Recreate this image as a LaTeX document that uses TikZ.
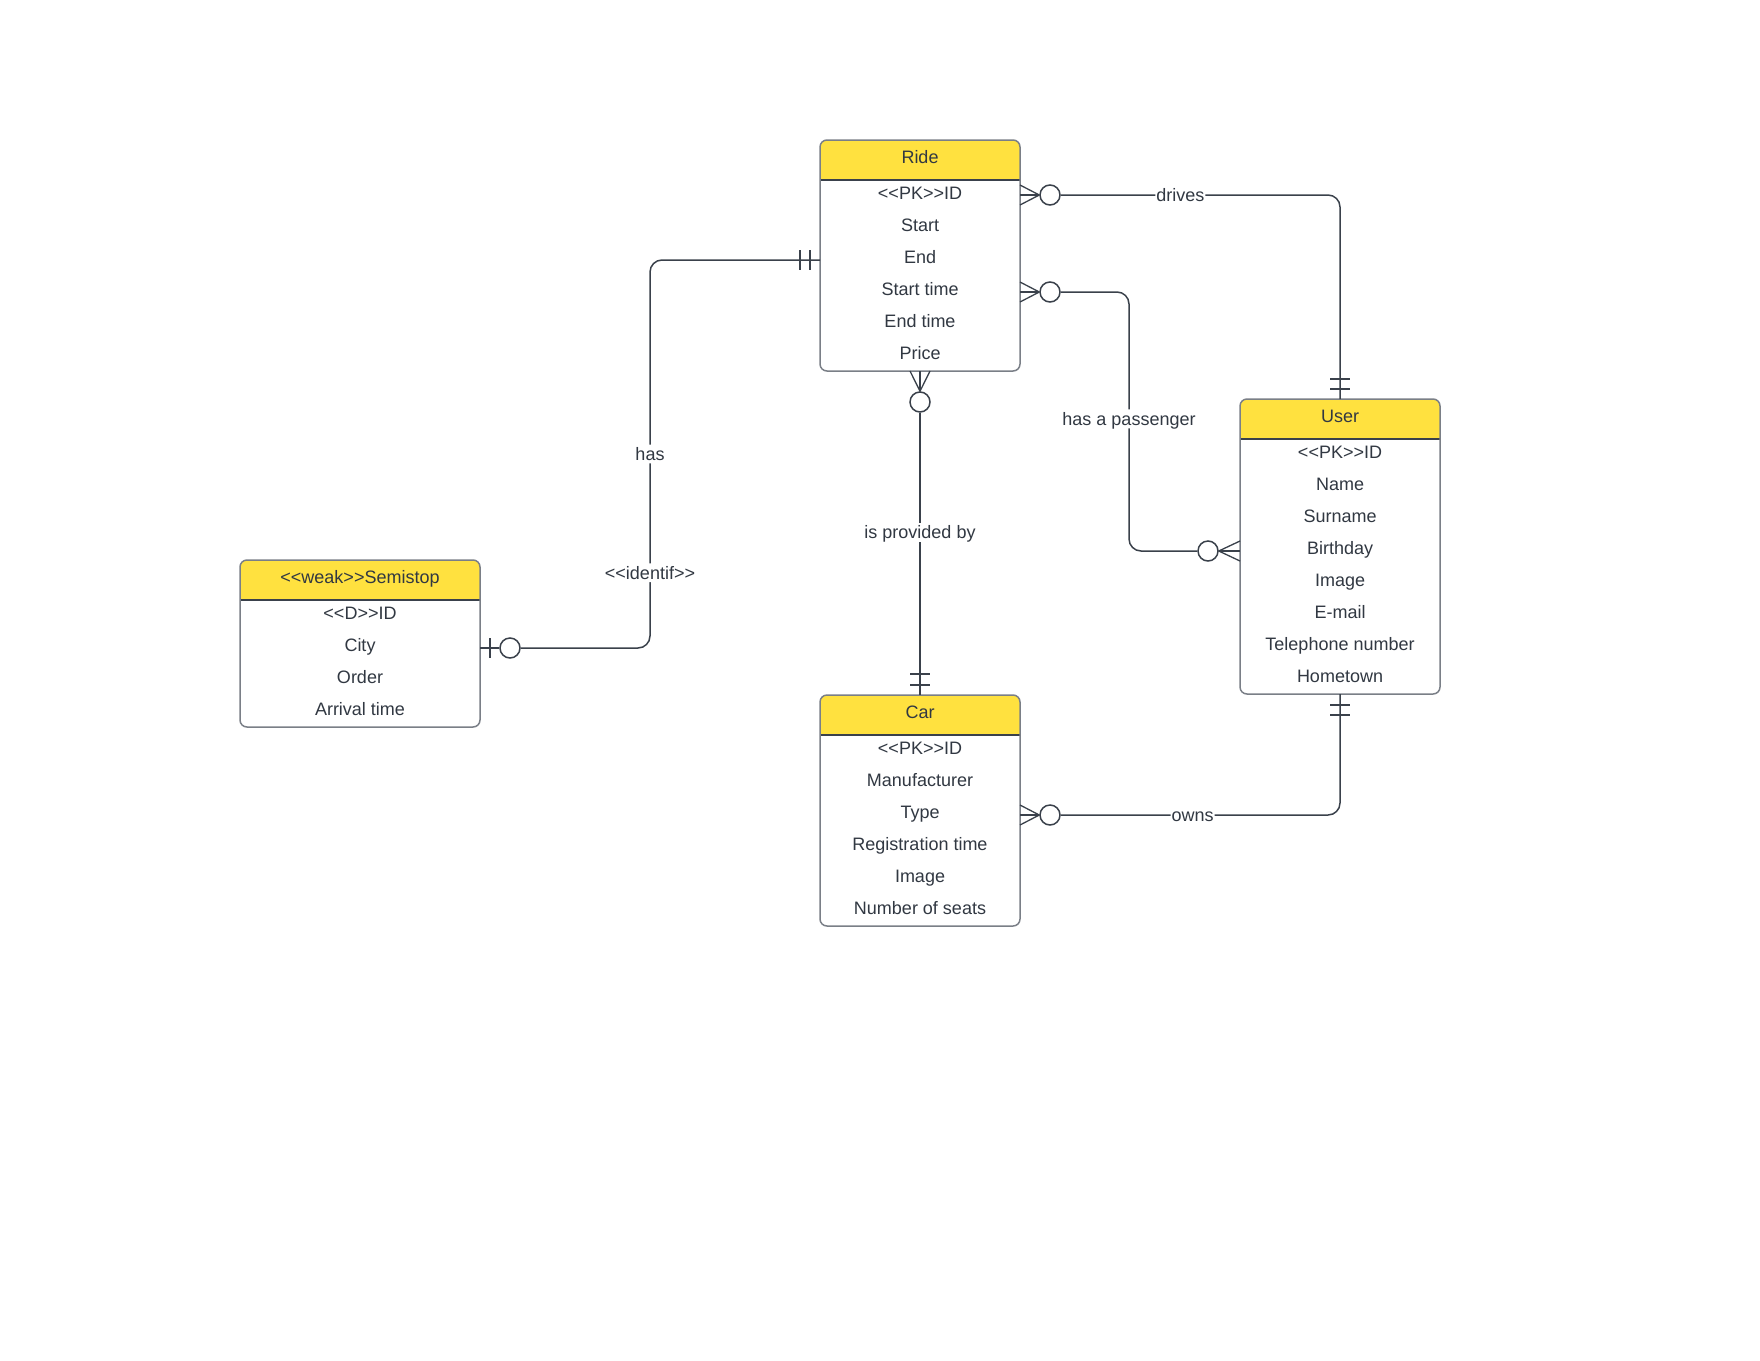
\documentclass[tikz,border=0pt]{standalone}
\usepackage{fontspec}
\setmainfont{Liberation Sans}
\definecolor{hdr}{HTML}{FFE13F}
\definecolor{boxgray}{HTML}{7A7F87}
\definecolor{ln}{HTML}{3A414B}
\definecolor{txtc}{HTML}{313842}
\tikzset{
  txt/.style={inner sep=0pt, text height=12.9pt, text depth=0pt, text=txtc,
    font=\fontsize{18}{22}\selectfont},
  lbl/.style={txt, fill=white, inner xsep=1pt, inner ysep=3pt},
  conn/.style={draw=ln, line width=1.5pt, rounded corners=12pt},
  foot/.style={draw=ln, line width=1.3pt},
  footmid/.style={draw=ln, line width=2.6pt},
  bar/.style={draw=ln, line width=2pt},
  ocirc/.style={circle, draw=ln, line width=1.5pt, fill=white, minimum size=20pt, inner sep=0pt},
  entbox/.style={draw=boxgray, rounded corners=7pt, line width=1.5pt, inner sep=0pt, outer sep=0pt, anchor=north west},
  sepline/.style={draw=ln, line width=1.8pt}
}
\newcommand\mkent[7]{%
  \pgfmathsetmacro\entb{#3+39+32*#5}%
  \pgfmathsetmacro\entr{#2+#4}%
  \pgfmathsetmacro\enth{#3+40}%
  \begin{scope}
    \clip[rounded corners=7pt] (#2,#3) rectangle (\entr,\entb);
    \fill[white] (#2,#3) rectangle (\entr,\entb);
    \fill[hdr] (#2,#3) rectangle (\entr,\enth);
  \end{scope}
  \draw[sepline] (#2,\enth) -- (\entr,\enth);
  \node[entbox, minimum width=#4pt, minimum height=32*#5+39] (#1) at (#2,#3) {};
  \node[txt] (#1-t) at (#2+#4/2, #3+17.5) {#6};
  \foreach \a [count=\i] in {#7} {
    \node[txt] (#1-\i) at (#2+#4/2, #3+53+32*\i-32) {\a};
  }
}
\begin{document}
\begin{tikzpicture}[x=1pt,y=-1pt]
\useasboundingbox (0,0) rectangle (1760,1360);
\fill[white] (0,0) rectangle (1760,1360);

% entities
\mkent{ride}{820}{140}{200}{6}{Ride}{<{}<PK>{}>ID,Start,End,Start time,End time,Price}
\mkent{semi}{240}{560}{240}{4}{<{}<weak>{}>Semistop}{<{}<D>{}>ID,City,Order,Arrival time}
\mkent{user}{1240}{399}{200}{8}{User}{<{}<PK>{}>ID,Name,Surname,Birthday,Image,E-mail,Telephone number,Hometown}
\mkent{car}{820}{695}{200}{6}{Car}{<{}<PK>{}>ID,Manufacturer,Type,Registration time,Image,Number of seats}

% ---------- drives ----------
\node[ocirc] (c1) at (1050,195) {};
\coordinate (r1) at (1020,195);
\draw[foot] (1020,185) -- (c1.west) -- (1020,205);
\draw[footmid] (r1) -- (c1.west);
\draw[conn] (c1.east) -| node[lbl, pos=0.214] {drives} (user.north);
\draw[bar] (1330,379) -- (1350,379);
\draw[bar] (1330,389) -- (1350,389);

% ---------- has a passenger ----------
\node[ocirc] (c2) at (1050,292) {};
\node[ocirc] (c2b) at (1208,551) {};
\coordinate (r2) at (1020,292);
\coordinate (u2) at (1240,551);
\draw[foot] (1020,282) -- (c2.west) -- (1020,302);
\draw[footmid] (r2) -- (c2.west);
\draw[foot] (1240,541) -- (c2b.east) -- (1240,561);
\draw[footmid] (u2) -- (c2b.east);
\draw[conn] (c2.east) -- (1129,292) -- node[lbl, pos=0.49] {has a passenger} (1129,551) -- (c2b.west);

% ---------- has / <<identif>> ----------
\node[ocirc] (c3) at (510,648) {};
\coordinate (r3) at (820,260);
\coordinate (s3) at (480,648);
\draw[conn] (r3) -- (650,260) -- node[lbl, pos=0.5] {has} node[lbl, pos=0.806] {<{}<identif>{}>} (650,648) -- (c3.east);
\draw[foot] (s3) -- (c3.west);
\draw[bar] (490,638) -- (490,658);
\draw[bar] (800,250) -- (800,270);
\draw[bar] (810,250) -- (810,270);

% ---------- is provided by ----------
\node[ocirc] (c4) at (920,402) {};
\draw[foot] (910,371) -- (c4.north) -- (930,371);
\draw[footmid] (920,371) -- (c4.north);
\draw[draw=ln, line width=2.4pt] (c4.south) -- node[lbl, pos=0.423] {is provided by} (car.north);
\draw[bar] (910,674) -- (930,674);
\draw[bar] (910,685) -- (930,685);

% ---------- owns ----------
\node[ocirc] (c5) at (1050,815) {};
\coordinate (r5) at (1020,815);
\draw[foot] (1020,805) -- (c5.west) -- (1020,825);
\draw[footmid] (r5) -- (c5.west);
\draw[conn] (c5.east) -| node[lbl, pos=0.236] {owns} (user.south);
\draw[bar] (1330,705) -- (1350,705);
\draw[bar] (1330,715) -- (1350,715);
\end{tikzpicture}
\end{document}
